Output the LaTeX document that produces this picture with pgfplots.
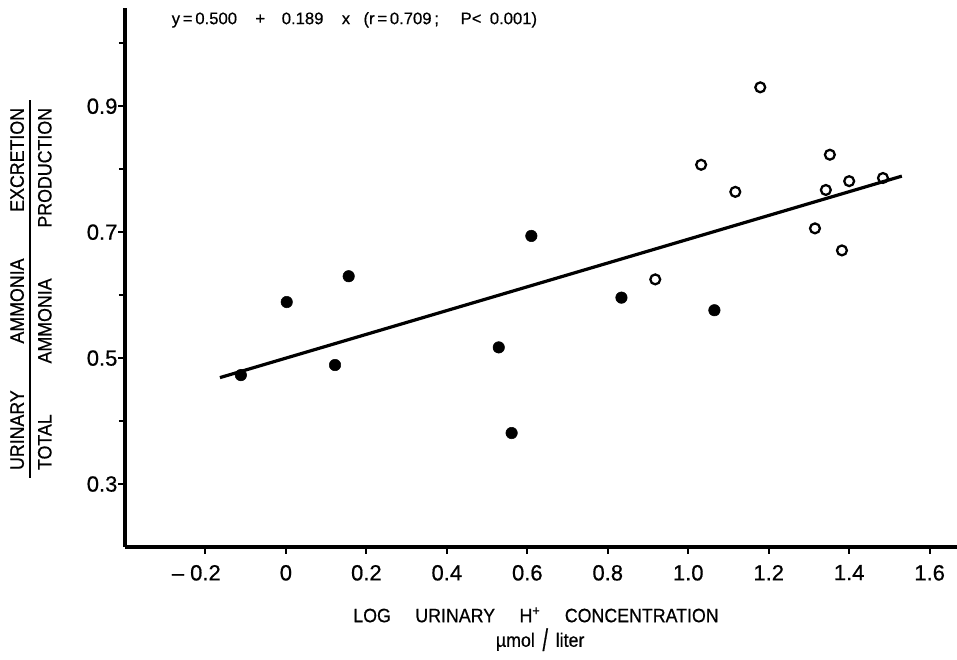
\documentclass[border=0pt]{standalone}
\usepackage{fontspec}
\setmainfont{Liberation Sans}[FakeBold=0.6]
\newfontfamily\condfont{Liberation Sans}[FakeStretch=0.92,FakeBold=0.6]
\usepackage{pgfplots}
\pgfplotsset{compat=1.18}
\begin{document}
\begin{tikzpicture}[x=1pt,y=1pt]
\path[use as bounding box] (-93.75,-84.75) rectangle (624,410.25);
\begin{axis}[
  at={(0,0)}, anchor=south west, scale only axis,
  width=624pt, height=404.25pt,
  xmin=-0.4, xmax=1.668, ymin=0.2, ymax=1.056,
  axis lines*=left,
  axis line style={line width=2.3pt},
  tick align=outside,
  major tick length=5pt, minor tick length=4.5pt,
  every tick/.style={black, line width=1.5pt},
  xtick={-0.2,0,0.2,0.4,0.6,0.8,1.0,1.2,1.4,1.6},
  xticklabels={\llap{– }0.2,0,0.2,0.4,0.6,0.8,1.0,1.2,1.4,1.6},
  ytick={0.3,0.5,0.7,0.9},
  yticklabels={0.3,0.5,0.7,0.9},
  minor ytick={0.4,0.6,0.8,1.0},
  ticklabel style={font=\fontsize{16.5}{19}\selectfont},
  xticklabel style={yshift=-5pt},
  yticklabel style={inner sep=0.5pt},
  clip=false,
]
\addplot[line width=2.4pt, black] coordinates {(-0.164,0.469) (1.531,0.789)};
\addplot[only marks, mark=*, mark size=4.3pt, black] coordinates {
(-0.112,0.473) (0.002,0.589) (0.156,0.630) (0.122,0.489) (0.529,0.517)
(0.561,0.381) (0.610,0.694) (0.834,0.596) (1.065,0.576)};
\addplot[only marks, mark=o, mark size=3.7pt, line width=1.7pt, black, mark options={fill=white}] coordinates {
(1.179,0.930) (1.032,0.807) (1.117,0.764) (1.352,0.823) (1.342,0.767)
(1.400,0.781) (1.484,0.786) (1.315,0.706) (1.382,0.671) (0.918,0.625)};
\node[anchor=west, font=\fontsize{12.5}{14}\selectfont] at (axis description cs:0.0505,0.978)
 {\makebox[282pt][l]{y\,=\,0.500\hspace{1.1em}+\hspace{1em}0.189\hspace{1.1em}x\hspace{0.8em}(r\,=\,0.709\,;\hspace{1.3em}P<\hspace{0.5em}0.001)}};
\node[rotate=90, inner sep=0pt] at (axis description cs:-0.113,0.4787) {\condfont\fontsize{14.5}{17}\selectfont
 \vbox{\hbox to 283.5pt{\hfil\makebox[271.5pt][s]{URINARY AMMONIA EXCRETION}\hfil}\kern4pt\hrule height1.5pt\kern5pt\hbox to 283.5pt{\hfil\makebox[271.5pt][s]{TOTAL AMMONIA PRODUCTION}\hfil}}};
\node[font=\condfont\fontsize{14.5}{17}\selectfont] at (axis description cs:0.494,-0.126)
 {\makebox[274pt][s]{LOG URINARY H\textsuperscript{+} CONCENTRATION}};
\node[font=\condfont\fontsize{14.5}{17}\selectfont, inner sep=0pt] at (axis description cs:0.499,-0.172)
 {µmol\hspace{0.4em}\raisebox{-3pt}{\scalebox{1.1}[1.6]{/}}\hspace{0.4em}liter};
\end{axis}
\end{tikzpicture}
\end{document}
